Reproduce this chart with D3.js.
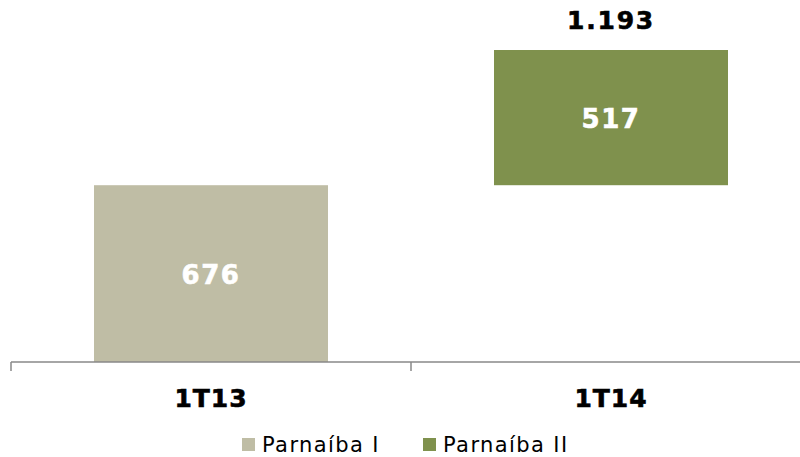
<!DOCTYPE html>
<html>
<head>
<meta charset="utf-8">
<script src="https://cdn.jsdelivr.net/npm/d3@7"></script>
<style>
  body { margin: 0; background: #fff; }
  svg { display: block; font-family: "DejaVu Sans", Verdana, sans-serif; }
</style>
</head>
<body>
<div id="chart"></div>
<script>
// data
const categories = ["1T13", "1T14"];
const seriesNames = ["Parnaíba I", "Parnaíba II"];
const seriesColors = ["#bfbda5", "#7f914d"];
const parnaibaI = [676, null];   // 1T13 value
const parnaibaII = [null, 517];  // 1T14 increment
const baseOffset = [0, 676];     // 1T14 sits on top of Parnaíba I (not drawn)

function drawChart() {
  const container = d3.select("#chart");
  container.selectAll("*").remove();

  const width = 800;
  const height = 457;
  const baseY = 362;

  const svg = container.append("svg")
    .attr("width", width)
    .attr("height", height);

  const fmt = d3.formatLocale({ decimal: ",", thousands: ".", grouping: [3], currency: ["R$", ""] }).format(",d");

  const x = d3.scaleBand()
    .domain(categories)
    .range([11, 811])
    .paddingInner(0.415)
    .paddingOuter(0.2075);

  const maxTotal = d3.max(categories, (d, i) => baseOffset[i] + (parnaibaI[i] || 0) + (parnaibaII[i] || 0));

  const y = d3.scaleLinear()
    .domain([0, maxTotal])
    .range([baseY, 50]);

  // build segments
  const segs = [];
  categories.forEach((c, i) => {
    let start = baseOffset[i];
    [parnaibaI, parnaibaII].forEach((s, k) => {
      if (s[i] != null) {
        segs.push({ cat: c, y0: start, y1: start + s[i], value: s[i], color: seriesColors[k] });
        start += s[i];
      }
    });
  });

  svg.append("g").selectAll("rect")
    .data(segs)
    .join("rect")
    .attr("x", d => x(d.cat))
    .attr("width", x.bandwidth())
    .attr("y", d => y(d.y1))
    .attr("height", d => y(d.y0) - y(d.y1))
    .attr("fill", d => d.color);

  svg.append("g").selectAll("text")
    .data(segs)
    .join("text")
    .attr("x", d => x(d.cat) + x.bandwidth() / 2)
    .attr("y", d => (y(d.y0) + y(d.y1)) / 2 + 10)
    .attr("text-anchor", "middle")
    .attr("fill", "#fff")
    .attr("stroke", "#fff")
    .attr("stroke-width", 0.6)
    .attr("font-weight", "bold")
    .attr("font-size", 26)
    .attr("letter-spacing", 1.5)
    .text(d => fmt(d.value));

  // total label over 1T14
  const totals = categories.map((c, i) => ({ cat: c, i, total: baseOffset[i] + (parnaibaI[i] || 0) + (parnaibaII[i] || 0) }))
    .filter(d => baseOffset[d.i] > 0);

  svg.append("g").selectAll("text")
    .data(totals)
    .join("text")
    .attr("x", d => x(d.cat) + x.bandwidth() / 2)
    .attr("y", d => y(d.total) - 21)
    .attr("text-anchor", "middle")
    .attr("fill", "#000")
    .attr("stroke", "#000")
    .attr("stroke-width", 0.6)
    .attr("font-weight", "bold")
    .attr("font-size", 25)
    .attr("letter-spacing", 1.8)
    .text(d => fmt(d.total));

  // axis
  const gap = (x.step() - x.bandwidth()) / 2;
  const axis = svg.append("g");
  axis.append("line")
    .attr("x1", 11).attr("x2", width)
    .attr("y1", baseY).attr("y2", baseY)
    .attr("stroke", "#888").attr("stroke-width", 1.5);
  axis.selectAll(".tick")
    .data(categories)
    .join("line")
    .attr("x1", d => x(d) - gap).attr("x2", d => x(d) - gap)
    .attr("y1", baseY).attr("y2", baseY + 9)
    .attr("stroke", "#888").attr("stroke-width", 1.5);
  axis.selectAll("text")
    .data(categories)
    .join("text")
    .attr("x", d => x(d) + x.bandwidth() / 2)
    .attr("y", 407)
    .attr("text-anchor", "middle")
    .attr("stroke", "#000")
    .attr("stroke-width", 0.6)
    .attr("font-weight", "bold")
    .attr("font-size", 25)
    .attr("letter-spacing", 1)
    .text(d => d);

  // legend
  const legendX = [242, 423];
  const legend = svg.append("g").selectAll("g")
    .data(seriesNames)
    .join("g")
    .attr("transform", (d, i) => `translate(${legendX[i]},438)`);
  legend.append("rect")
    .attr("width", 13).attr("height", 13)
    .attr("fill", (d, i) => seriesColors[i]);
  legend.append("text")
    .attr("x", 20)
    .attr("y", 14)
    .attr("font-size", 21)
    .attr("letter-spacing", 1.4)
    .attr("fill", "#000")
    .text(d => d);
}

drawChart();
</script>
</body>
</html>
